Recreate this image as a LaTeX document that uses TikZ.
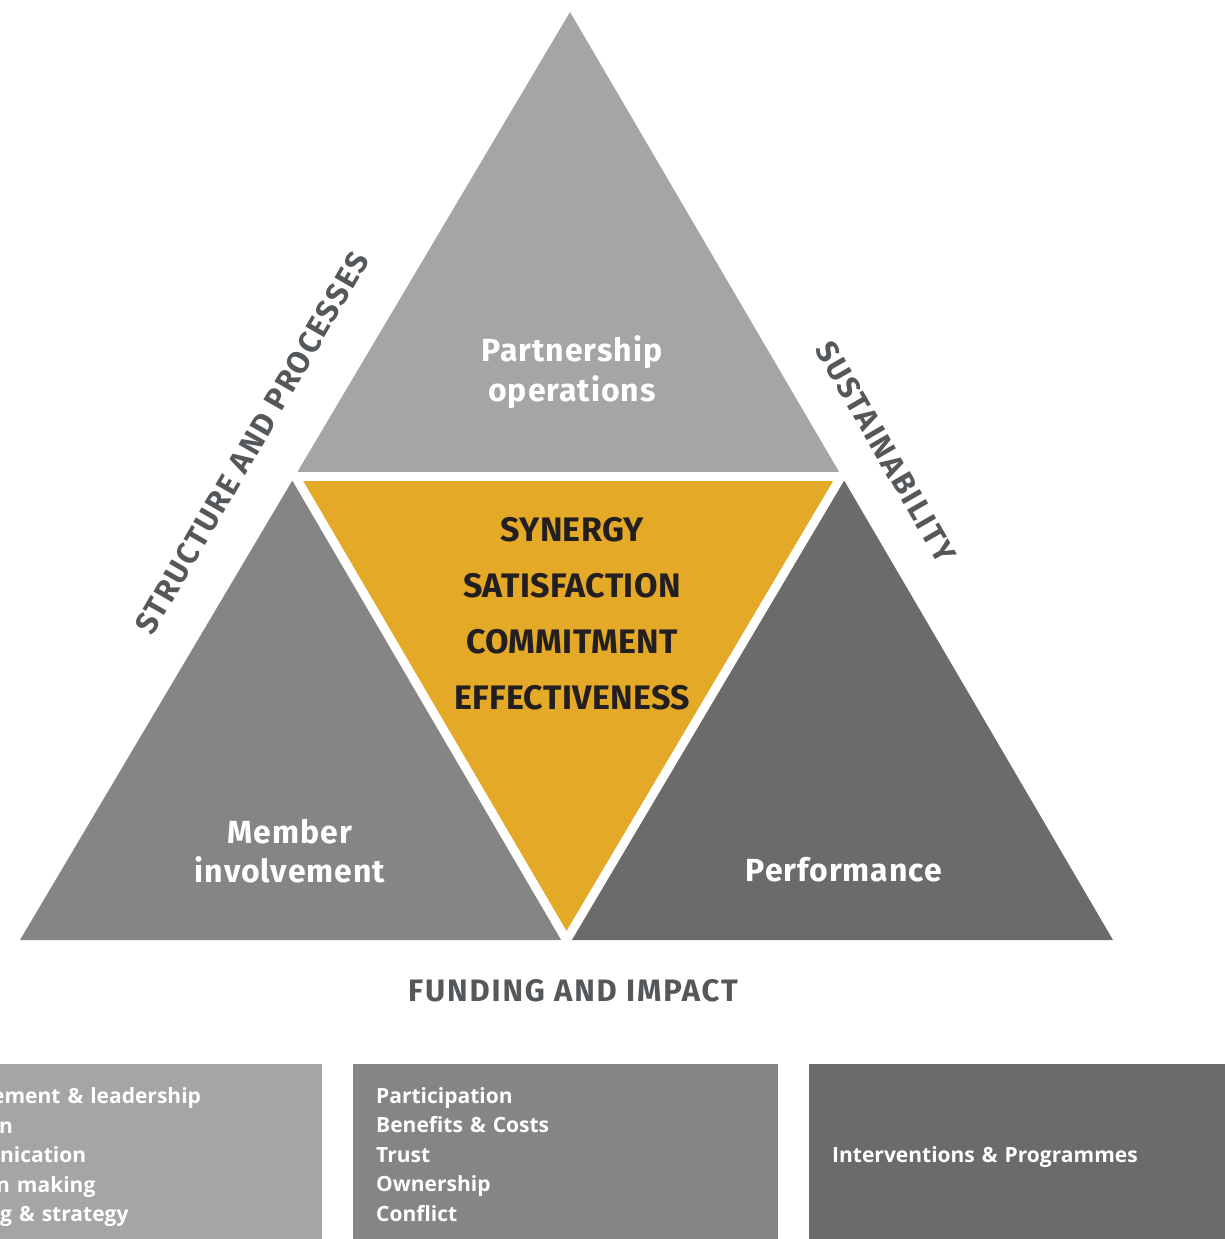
\documentclass[tikz,border=0pt]{standalone}
\usepackage{fontspec}
\setmainfont{Open Sans}
\newfontfamily\trifont{Fira Sans}[LetterSpace=3]
\newfontfamily\corefont{Fira Sans}[LetterSpace=1]
\newfontfamily\sidefont{Fira Sans}[LetterSpace=6]
\usetikzlibrary{positioning}
\definecolor{lightgrey}{HTML}{A5A5A5}
\definecolor{midgrey}{HTML}{858586}
\definecolor{darkgrey}{HTML}{6A6B6A}
\definecolor{gold}{HTML}{E3A927}
\definecolor{labelgrey}{HTML}{54585A}
\definecolor{inktext}{HTML}{231F20}
\tikzstyle{gap} = [
  draw=white,
  line width=9pt,
  shorten <=-12pt,
  shorten >=-12pt
]
\tikzstyle{trilabel} = [
  text=white,
  align=center,
  inner sep=0,
  font=\trifont\bfseries\fontsize{32}{39.5}\selectfont
]
\tikzstyle{core} = [
  text=inktext,
  align=center,
  inner sep=0,
  font=\corefont\bfseries\fontsize{34}{56}\selectfont
]
\tikzstyle{side} = [
  text=labelgrey,
  inner sep=0,
  font=\sidefont\bfseries\fontsize{31}{31}\selectfont
]
\tikzstyle{box} = [
  rectangle,
  anchor=north west,
  minimum width=425pt,
  minimum height=180pt,
  text width=379pt,
  inner xsep=23pt,
  inner ysep=0,
  align=left,
  text=white,
  font=\bfseries\fontsize{21}{29.5}\selectfont
]

\begin{document}
\begin{tikzpicture}[x=1pt, y=-1pt]
      \useasboundingbox (0,0) rectangle (1225,1239);

      \coordinate (apex) at (570,12);
      \coordinate (bl) at (20,940);
      \coordinate (br) at (1113,940);
      \coordinate (ml) at (295,476);
      \coordinate (mr) at (841.5,476);
      \coordinate (mb) at (566.5,940);

      \fill [lightgrey] (apex) -- (ml) -- (mr) -- cycle;
      \fill [midgrey] (ml) -- (bl) -- (mb) -- cycle;
      \fill [darkgrey] (mr) -- (mb) -- (br) -- cycle;
      \fill [gold] (ml) -- (mr) -- (mb) -- cycle;
      \draw [gap] (ml) -- (mr);
      \draw [gap] (ml) -- (mb);
      \draw [gap] (mr) -- (mb);

      \node [trilabel] (ops) at (572,372) {Partnership\\operations};
      \node [trilabel] (member) at (290,851) {Member\\involvement};
      \node [trilabel] (perf) at (844,870) {Performance};
      \node [core] (values) at (572,614) {SYNERGY\\SATISFACTION\\COMMITMENT\\EFFECTIVENESS};

      \node [side, rotate=60] (structure) at (252,443) {STRUCTURE AND PROCESSES};
      \node [side, rotate=-60] (sustain) at (886,452) {SUSTAINABILITY};
      \node [side] (funding) at (573,991) {FUNDING AND IMPACT};

      \node [box, fill=lightgrey, minimum width=322pt, minimum height=186pt, text width=322pt, inner xsep=0] (mgmt) at (0,1064) {\hspace*{-8pt}ement \& leadership\\\hspace*{-1pt}n\\nication\\\hspace*{-4pt}n making\\g \& strategy};
      \node [box, fill=midgrey] (people) at (353,1064) {Participation\\Benefits \& Costs\\Trust\\Ownership\\Conflict};
      \node [box, fill=darkgrey, text depth=0pt] (action) at (809,1064) {Interventions \& Programmes};

    \end{tikzpicture}
\end{document}
